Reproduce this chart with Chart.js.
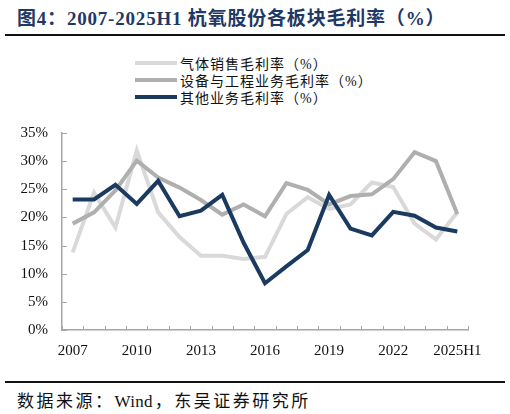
<!DOCTYPE html>
<html>
<head>
<meta charset="utf-8">
<script src="https://cdn.jsdelivr.net/npm/chart.js@4"></script>
<style>
  body { margin: 0; background: #fff; }
  #page { position: relative; width: 510px; height: 414px; overflow: hidden;
          font-family: 'Liberation Serif', 'Noto Sans CJK SC', serif; }
  #title { position: absolute; left: 17px; top: 3px; font-size: 19px; font-weight: bold;
           color: #1f3864; letter-spacing: 0.8px; white-space: nowrap; }
  .rule { position: absolute; left: 5px; width: 500px; height: 2px; background: #111; }
  #legend { position: absolute; left: 135px; top: 54px; font-size: 14px; color: #111; }
  #legend .row { height: 17px; display: flex; align-items: center; letter-spacing: 1px; white-space: nowrap; }
  #legend .swatch { width: 42px; height: 4px; margin-right: 3px; }
  #chartBox { position: absolute; left: 0; top: 110px; width: 510px; height: 255px; }
  #source { position: absolute; left: 17px; top: 387px; font-size: 17px; color: #111;
            letter-spacing: 2.5px; white-space: nowrap; }
  #source .latin { letter-spacing: 0.3px; margin-right: 2px; }
</style>
</head>
<body>
<div id="page">
  <div id="title">图4：2007-2025H1 杭氧股份各板块毛利率（%）</div>
  <div class="rule" style="top:34px"></div>
  <div id="legend"></div>
  <div id="chartBox"><canvas id="chart" width="510" height="255"></canvas></div>
  <div class="rule" style="top:381px"></div>
  <div id="source">数据来源：<span class="latin">Wind</span>，东吴证券研究所</div>
</div>
<script>
const years = ['2007', '2008', '2009', '2010', '2011', '2012', '2013', '2014', '2015', '2016',
               '2017', '2018', '2019', '2020', '2021', '2022', '2023', '2024', '2025H1'];

// 气体销售毛利率（%）
const gasMargin = [13.8, 24.4, 18.2, 31.9, 20.9, 16.5, 13.2, 13.2, 12.6, 13.0,
                   20.6, 23.6, 21.5, 22.3, 26.2, 25.4, 18.9, 16.1, 20.9];
// 设备与工程业务毛利率（%）
const equipMargin = [18.9, 20.9, 24.8, 30.1, 27.1, 25.3, 23.1, 20.5, 22.3, 20.2,
                     26.1, 24.9, 22.3, 23.8, 24.1, 26.8, 31.6, 30.0, 20.6];
// 其他业务毛利率（%）
const otherMargin = [23.2, 23.2, 25.8, 22.4, 26.5, 20.2, 21.2, 24.0, 15.5, 8.3,
                     11.3, 14.2, 24.0, 18.0, 16.8, 21.0, 20.3, 18.2, 17.5];

const seriesNames = ['气体销售毛利率（%）', '设备与工程业务毛利率（%）', '其他业务毛利率（%）'];
const seriesColors = ['#d9d9d9', '#afafaf', '#1b3a60'];

const axisColor = '#a6a6a6';
const tickFont = { family: "'Liberation Serif', serif", size: 15 };

// inward tick marks on both axes
const innerTicks = {
    id: 'innerTicks',
    afterDraw(chart) {
        const ctx = chart.ctx;
        const xs = chart.scales.x;
        const ys = chart.scales.y;
        ctx.save();
        ctx.strokeStyle = axisColor;
        ctx.lineWidth = 1;
        const step = xs.width / years.length;
        for (let i = 0; i <= years.length; i++) {
            const px = Math.round(xs.left + i * step) + 0.5;
            ctx.beginPath();
            ctx.moveTo(px, ys.bottom);
            ctx.lineTo(px, ys.bottom - 4);
            ctx.stroke();
        }
        ys.ticks.forEach(t => {
            const py = Math.round(ys.getPixelForValue(t.value)) + 0.5;
            ctx.beginPath();
            ctx.moveTo(ys.left + ys.width, py);
            ctx.lineTo(ys.left + ys.width + 5, py);
            ctx.stroke();
        });
        ctx.restore();
    }
};

const datasets = [gasMargin, equipMargin, otherMargin].map((vals, i) => ({
    label: seriesNames[i],
    data: vals,
    borderColor: seriesColors[i],
    backgroundColor: seriesColors[i],
    borderWidth: 4,
    pointRadius: 0,
    tension: 0,
    order: 3 - i
}));

// html legend, stacked like the original
const legendEl = document.getElementById('legend');
datasets.forEach(ds => {
    const row = document.createElement('div');
    row.className = 'row';
    row.innerHTML = `<span class="swatch" style="background:${ds.borderColor}"></span><span>${ds.label}</span>`;
    legendEl.appendChild(row);
});

new Chart(document.getElementById('chart'), {
    type: 'line',
    data: { labels: years, datasets: datasets },
    options: {
        responsive: false,
        animation: false,
        layout: { padding: { top: 14, right: 42, left: 0, bottom: 0 } },
        plugins: { legend: { display: false }, tooltip: { enabled: false } },
        scales: {
            x: {
                offset: true,
                grid: { drawOnChartArea: false, drawTicks: false },
                border: { color: axisColor, width: 1.5 },
                ticks: {
                    autoSkip: false,
                    maxRotation: 0,
                    padding: 12,
                    color: '#111',
                    font: tickFont,
                    callback: (v, i) => (i % 3 === 0 ? years[i] : '')
                },
                afterFit: s => { s.height = 35; }
            },
            y: {
                min: 0,
                max: 35,
                grid: { drawOnChartArea: false, drawTicks: false },
                border: { color: axisColor, width: 1.5 },
                ticks: {
                    stepSize: 5,
                    padding: 14,
                    color: '#111',
                    font: tickFont,
                    callback: v => v + '%'
                },
                afterFit: s => { s.width = 62; }
            }
        }
    },
    plugins: [innerTicks]
});
</script>
</body>
</html>
